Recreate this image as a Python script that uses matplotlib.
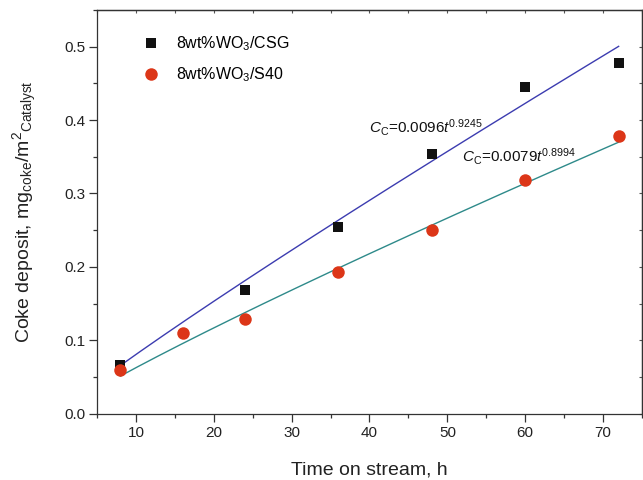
import numpy as np
import matplotlib.pyplot as plt

plt.rcParams['font.family'] = ['Liberation Sans', 'DejaVu Sans']
plt.rcParams['mathtext.fontset'] = 'custom'
plt.rcParams['mathtext.rm'] = 'Liberation Sans'
plt.rcParams['mathtext.it'] = 'Liberation Sans:italic'

# Data
t_csg = [8, 24, 36, 48, 60, 72]
coke_csg = [0.066, 0.169, 0.254, 0.354, 0.445, 0.478]

t_s40 = [8, 16, 24, 36, 48, 60, 72]
coke_s40 = [0.060, 0.110, 0.129, 0.193, 0.250, 0.318, 0.378]

# Power-law fits printed on the chart: Cc = a * t^n
fit_csg = (0.0096, 0.9245)
fit_s40 = (0.0079, 0.8994)

label_csg = '8wt%WO$_3$/CSG'
label_s40 = '8wt%WO$_3$/S40'

fig = plt.figure(figsize=(6.43, 4.80), dpi=100)
ax = fig.add_axes([97 / 643, 66.3 / 480, 545 / 643, 403.7 / 480])

# Fit curves
tt = np.linspace(8, 72, 200)
ax.plot(tt, fit_csg[0] * tt ** fit_csg[1], color='#3c3cb0', lw=1.0, zorder=2)
ax.plot(tt, fit_s40[0] * tt ** fit_s40[1], color='#2e8a8a', lw=1.0, zorder=2)

# Measured points
ax.plot(t_csg, coke_csg, 's', color='#111111', ms=7.5, mew=0, label=label_csg, zorder=3)
ax.plot(t_s40, coke_s40, 'o', color='#dc3618', ms=9, mew=0, label=label_s40, zorder=3)

ax.set_xlim(5, 75)
ax.set_ylim(0, 0.55)
ax.set_xticks([10, 20, 30, 40, 50, 60, 70])
ax.set_xticks(np.arange(5, 76, 5), minor=True)
ax.set_yticks([0.0, 0.1, 0.2, 0.3, 0.4, 0.5])
ax.set_yticks(np.arange(0, 0.551, 0.05), minor=True)
ax.yaxis.set_major_formatter(plt.FormatStrFormatter('%.1f'))

ax.tick_params(which='major', direction='out', length=5.5, width=0.9,
               labelsize=11, color='#333333', labelcolor='#222222', pad=3)
ax.tick_params(which='minor', direction='out', length=2.8, width=0.9, color='#333333')

# Inward ticks on top and right
top = ax.secondary_xaxis('top')
top.set_xticks(np.arange(5, 76, 5))
top.tick_params(direction='in', length=2.5, width=0.8, labeltop=False, color='#555555')
right = ax.secondary_yaxis('right')
right.set_yticks(np.arange(0, 0.551, 0.05))
right.tick_params(direction='in', length=2.5, width=0.8, labelright=False, color='#555555')
for sp in list(ax.spines.values()) + [top.spines['top'], right.spines['right']]:
    sp.set_linewidth(0.9)
    sp.set_color('#333333')

ax.set_xlabel('Time on stream, h', fontsize=14, labelpad=16, color='#222222')
ax.set_ylabel('Coke deposit, mg$_{\\mathrm{coke}}$/m$^2$$_{\\mathrm{Catalyst}}$',
              fontsize=14, labelpad=18, color='#222222')

ax.legend(loc='upper left', bbox_to_anchor=(0.043, 0.975), frameon=False, fontsize=11.5,
          handletextpad=0.55, labelspacing=0.75, markerscale=1.0)

# Fit equations
ax.text(39.9, 0.383, '$C_\\mathrm{C}$=0.0096$t^{0.9245}$', fontsize=11, color='#111111')
ax.text(51.9, 0.343, '$C_\\mathrm{C}$=0.0079$t^{0.8994}$', fontsize=11, color='#111111')

fig.savefig('out.png', dpi=100)
